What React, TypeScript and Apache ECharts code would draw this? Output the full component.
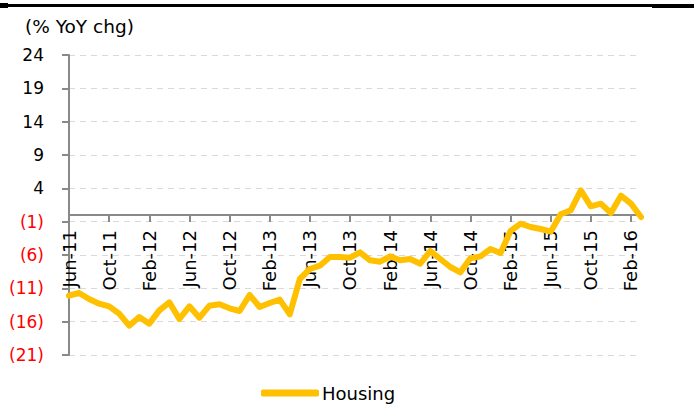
import React, { useEffect, useRef } from "react";
import * as echarts from "echarts";

const months: string[] = [
  "Jun-11", "Jul-11", "Aug-11", "Sep-11", "Oct-11", "Nov-11", "Dec-11",
  "Jan-12", "Feb-12", "Mar-12", "Apr-12", "May-12", "Jun-12", "Jul-12", "Aug-12", "Sep-12", "Oct-12", "Nov-12", "Dec-12",
  "Jan-13", "Feb-13", "Mar-13", "Apr-13", "May-13", "Jun-13", "Jul-13", "Aug-13", "Sep-13", "Oct-13", "Nov-13", "Dec-13",
  "Jan-14", "Feb-14", "Mar-14", "Apr-14", "May-14", "Jun-14", "Jul-14", "Aug-14", "Sep-14", "Oct-14", "Nov-14", "Dec-14",
  "Jan-15", "Feb-15", "Mar-15", "Apr-15", "May-15", "Jun-15", "Jul-15", "Aug-15", "Sep-15", "Oct-15", "Nov-15", "Dec-15",
  "Jan-16", "Feb-16", "Mar-16",
];

const housing: number[] = [
  -12.1, -11.7, -12.6, -13.3, -13.7, -14.8, -16.6,
  -15.3, -16.3, -14.3, -13.1, -15.6, -13.7, -15.4, -13.6, -13.4, -14.0, -14.4, -12.0,
  -13.8, -13.2, -12.7, -14.9, -9.6, -8.1, -7.6, -6.3, -6.3, -6.4, -5.6, -6.8,
  -7.0, -6.2, -6.8, -6.6, -7.3, -5.4, -6.6, -7.8, -8.6, -6.5, -6.2, -5.1,
  -5.7, -2.4, -1.3, -1.8, -2.1, -2.5, 0.1, 0.7, 3.7, 1.3, 1.7, 0.3,
  2.9, 1.7, -0.3,
];

const seriesName = "Housing";
const unitLabel = "(% YoY chg)";
const yMin = -21;
const yMax = 24;
const yStep = 5;

const FONT = "DejaVu Sans";
const GRID_TOP = 55;
const GRID_BOTTOM = 64;
const CHART_H = 419;

export default function App() {
  const ref = useRef<HTMLDivElement>(null);
  useEffect(() => {
    if (!ref.current) return;
    const chart = echarts.init(ref.current, null, { renderer: "svg" });
    const plotH = CHART_H - GRID_TOP - GRID_BOTTOM;
    const zeroOffset = ((0 - yMin) / (yMax - yMin)) * plotH;
    chart.setOption({
      animation: false,
      backgroundColor: "#ffffff",
      textStyle: { fontFamily: FONT },
      grid: {
        left: 69,
        right: 53,
        top: GRID_TOP,
        bottom: GRID_BOTTOM,
        containLabel: false,
        outerBoundsMode: "none",
      },
      graphic: [
        { type: "rect", shape: { x: 0, y: 4, width: 694, height: 3 }, style: { fill: "#000" } },
        { type: "rect", shape: { x: 0, y: 3, width: 8, height: 5 }, style: { fill: "#000" } },
        { type: "rect", shape: { x: 652, y: 4, width: 42, height: 4 }, style: { fill: "#000" } },
        {
          type: "text",
          left: 25,
          top: 17,
          style: { text: unitLabel, fontFamily: FONT, fontSize: 18.5, fill: "#000" },
        },
      ],
      legend: {
        bottom: 12,
        left: 256,
        icon: "roundRect",
        itemWidth: 58,
        itemHeight: 7,
        textStyle: { fontFamily: FONT, fontSize: 18, color: "#000", padding: [0, 0, 0, -2] },
        data: [seriesName],
      },
      xAxis: {
        type: "category",
        data: months,
        boundaryGap: false,
        offset: -(plotH - zeroOffset) + 20,
        axisLine: { onZero: false, lineStyle: { color: "#898989", width: 2 } },
        axisTick: { show: true, interval: 3, length: 7, lineStyle: { color: "#898989", width: 2 } },
        axisLabel: {
          interval: 3,
          rotate: 90,
          margin: 15,
          fontFamily: FONT,
          fontSize: 18,
          color: "#000",
        },
        splitLine: { show: false },
      },
      yAxis: {
        type: "value",
        min: yMin,
        max: yMax,
        interval: yStep,
        axisLine: { show: true, lineStyle: { color: "#898989", width: 2 } },
        axisTick: { show: true, length: 7, lineStyle: { color: "#898989", width: 2 } },
        axisLabel: {
          margin: 25,
          fontFamily: FONT,
          fontSize: 17,
          formatter: (v: number) => (v < 0 ? `(${-v})` : `${v}`),
          color: (v: any) => (Number(v) < 0 ? "#ff0000" : "#000000"),
        },
        splitLine: { show: true, lineStyle: { color: "#d9d9d9", type: [6, 5], width: 1 } },
      },
      series: [
        {
          name: seriesName,
          type: "line",
          data: housing,
          symbol: "none",
          itemStyle: { color: "#FFC000" },
          lineStyle: { color: "#FFC000", width: 6, join: "round", cap: "round" },
        },
      ],
    });
    return () => chart.dispose();
  }, []);
  return (
    <div
      ref={ref}
      style={{ position: "fixed", left: 0, top: 0, width: 694, height: 419 }}
    />
  );
}
